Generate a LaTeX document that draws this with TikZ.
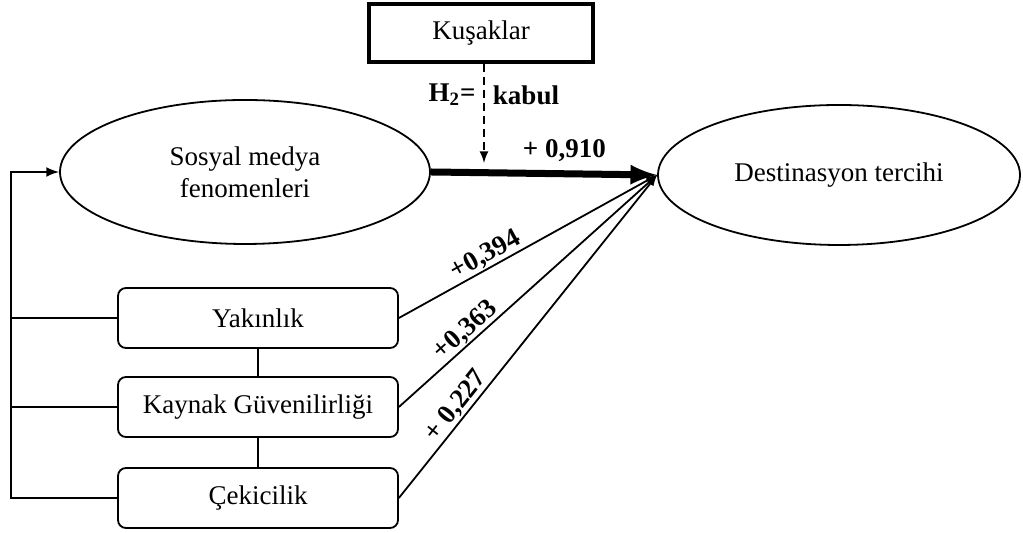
\documentclass[tikz,border=0pt]{standalone}
\usepackage{fontspec}
\setmainfont{Liberation Serif}
\usepackage{tikz}
\usetikzlibrary{shapes}
\usetikzlibrary{arrows}
\usetikzlibrary{positioning}
\usetikzlibrary{calc}
\tikzstyle{grup}=[
        draw,
        rectangle,
        line width=1.6pt,
        minimum width=112pt,
        minimum height=29pt,
        font=\fontsize{13.5}{16}\selectfont
]
\tikzstyle{gizil}=[ellipse,draw,line width=0.9pt,text=black,align=center,font=\fontsize{13.5}{16}\selectfont]
\tikzstyle{boyut}=[rectangle,draw,rounded corners=4pt,line width=0.9pt,minimum width=140pt,minimum height=30pt,font=\fontsize{13.5}{16}\selectfont]
\tikzstyle{etki}=[->,>=latex,line width=0.9pt]
\tikzstyle{guclu}=[->,>=latex,line width=3.5pt]
\tikzstyle{geri}=[->,>=latex,line width=1.2pt]
\tikzstyle{katsayi}=[font=\fontsize{13.5}{15}\selectfont\bfseries]

\begin{document}
\begin{tikzpicture}[x=0.5pt,y=0.5pt]
\useasboundingbox (0,0) rectangle (1023,533);
\node[grup] (kusak) at (481,500) {Kuşaklar};
\node[gizil,minimum width=185pt,minimum height=72pt] (sosyal) at (245,361) {Sosyal medya\\fenomenleri};
\node[gizil,minimum width=181pt,minimum height=70pt] (dest) at (839,358) {Destinasyon tercihi};
\node[boyut] (yak) at (258,215) {Yakınlık};
\node[boyut] (kay) at (258,126) {Kaynak Güvenilirliği};
\node[boyut] (cek) at (258,35) {Çekicilik};
\node[katsayi] (h2) at (452,438) {H$_{\mathbf{2}}$=};
\node[katsayi] (kabul) at (526,438) {kabul};
\coordinate (alt) at (11,35);
\coordinate (ust) at (11,361);
\coordinate (ok) at (484,370);
%Placementdesflèches
\draw[->,>=latex,line width=1pt,dash pattern=on 4pt off 2.5pt] (kusak.south -| ok) -- (ok);
\draw[guclu] (sosyal.east) -- node[katsayi,above=1pt,pos=0.59] {+ 0,910} (dest.west);
\draw[etki] (yak.east) -- node[katsayi,above=-3pt,sloped,pos=0.36] {+0,394} (dest.west);
\draw[etki] (kay.east) -- node[katsayi,above=-3pt,sloped,pos=0.29] {+0,363} (dest.west);
\draw[etki] (cek.east) -- node[katsayi,above=-3pt,sloped,pos=0.26] {+ 0,227} (dest.west);
\draw[line width=0.9pt] (yak) -- (kay);
\draw[line width=0.9pt] (kay) -- (cek);
\draw[geri] (cek.west) -- (alt) -- (ust) -- (sosyal.west);
\draw[line width=1.2pt] (yak.west) -- (yak.west -| alt);
\draw[line width=1.2pt] (kay.west) -- (kay.west -| alt);
\end{tikzpicture}
\end{document}
